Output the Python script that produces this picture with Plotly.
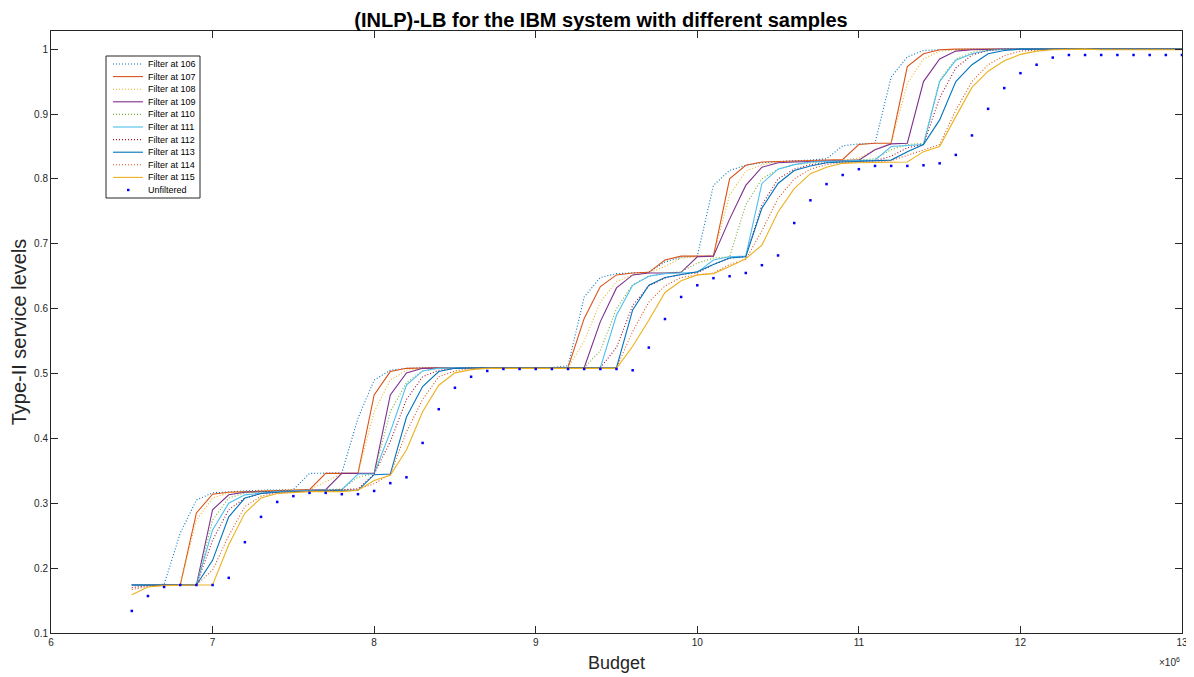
import plotly.graph_objs as go

# budget in millions (axis shows x10^6)
budget = [6.5, 6.6, 6.7, 6.8, 6.9, 7.0, 7.1, 7.2, 7.3, 7.4,
          7.5, 7.6, 7.7, 7.8, 7.9, 8.0, 8.1, 8.2, 8.3, 8.4,
          8.5, 8.6, 8.7, 8.8, 8.9, 9.0, 9.1, 9.2, 9.3, 9.4,
          9.5, 9.6, 9.7, 9.8, 9.9, 10.0, 10.1, 10.2, 10.3, 10.4,
          10.5, 10.6, 10.7, 10.8, 10.9, 11.0, 11.1, 11.2, 11.3, 11.4,
          11.5, 11.6, 11.7, 11.8, 11.9, 12.0, 12.1, 12.2, 12.3, 12.4,
          12.5, 12.6, 12.7, 12.8, 12.9, 13.0]

f106 = [0.174, 0.174, 0.175, 0.254, 0.305, 0.316, 0.318, 0.319, 0.320, 0.320,
        0.321, 0.346, 0.346, 0.347, 0.431, 0.490, 0.505, 0.508, 0.509, 0.509,
        0.509, 0.509, 0.509, 0.509, 0.509, 0.509, 0.509, 0.512, 0.618, 0.648,
        0.654, 0.655, 0.656, 0.672, 0.679, 0.681, 0.790, 0.813, 0.821, 0.825,
        0.827, 0.828, 0.829, 0.831, 0.851, 0.854, 0.855, 0.957, 0.988, 0.998,
        0.999, 1.0, 1.0, 1.0, 1.0, 1.0, 1.0, 1.0, 1.0, 1.0,
        1.0, 1.0, 1.0, 1.0, 1.0, 1.0]
f107 = [0.174, 0.174, 0.174, 0.174, 0.285, 0.314, 0.317, 0.318, 0.319, 0.320,
        0.320, 0.321, 0.346, 0.346, 0.346, 0.467, 0.503, 0.508, 0.509, 0.509,
        0.509, 0.509, 0.509, 0.509, 0.509, 0.509, 0.509, 0.509, 0.585, 0.634,
        0.652, 0.655, 0.656, 0.675, 0.681, 0.681, 0.681, 0.800, 0.821, 0.826,
        0.827, 0.828, 0.828, 0.829, 0.830, 0.853, 0.855, 0.855, 0.973, 0.993,
        0.999, 1.0, 1.0, 1.0, 1.0, 1.0, 1.0, 1.0, 1.0, 1.0,
        1.0, 1.0, 1.0, 1.0, 1.0, 1.0]
f108 = [0.174, 0.174, 0.174, 0.174, 0.274, 0.308, 0.316, 0.318, 0.319, 0.320,
        0.320, 0.321, 0.333, 0.346, 0.346, 0.441, 0.490, 0.505, 0.508, 0.509,
        0.509, 0.509, 0.509, 0.509, 0.509, 0.509, 0.509, 0.509, 0.550, 0.610,
        0.642, 0.652, 0.655, 0.665, 0.678, 0.680, 0.681, 0.775, 0.812, 0.822,
        0.826, 0.827, 0.828, 0.828, 0.829, 0.832, 0.845, 0.855, 0.947, 0.985,
        0.997, 0.999, 1.0, 1.0, 1.0, 1.0, 1.0, 1.0, 1.0, 1.0,
        1.0, 1.0, 1.0, 1.0, 1.0, 1.0]
f109 = [0.174, 0.174, 0.174, 0.174, 0.174, 0.290, 0.313, 0.317, 0.318, 0.319,
        0.320, 0.320, 0.321, 0.346, 0.346, 0.346, 0.467, 0.501, 0.508, 0.509,
        0.509, 0.509, 0.509, 0.509, 0.509, 0.509, 0.509, 0.509, 0.509, 0.580,
        0.632, 0.652, 0.655, 0.655, 0.656, 0.680, 0.681, 0.738, 0.790, 0.818,
        0.825, 0.826, 0.827, 0.828, 0.828, 0.829, 0.845, 0.854, 0.855, 0.950,
        0.985, 0.997, 0.999, 1.0, 1.0, 1.0, 1.0, 1.0, 1.0, 1.0,
        1.0, 1.0, 1.0, 1.0, 1.0, 1.0]
f110 = [0.174, 0.174, 0.174, 0.174, 0.174, 0.274, 0.308, 0.316, 0.318, 0.319,
        0.320, 0.320, 0.321, 0.322, 0.340, 0.346, 0.441, 0.486, 0.504, 0.508,
        0.509, 0.509, 0.509, 0.509, 0.509, 0.509, 0.509, 0.509, 0.509, 0.535,
        0.600, 0.637, 0.650, 0.655, 0.657, 0.670, 0.678, 0.680, 0.760, 0.800,
        0.815, 0.822, 0.825, 0.827, 0.828, 0.829, 0.831, 0.845, 0.853, 0.855,
        0.952, 0.985, 0.995, 0.999, 1.0, 1.0, 1.0, 1.0, 1.0, 1.0,
        1.0, 1.0, 1.0, 1.0, 1.0, 1.0]
f111 = [0.174, 0.174, 0.174, 0.174, 0.174, 0.259, 0.300, 0.313, 0.316, 0.318,
        0.319, 0.320, 0.320, 0.321, 0.345, 0.345, 0.410, 0.482, 0.504, 0.508,
        0.509, 0.509, 0.509, 0.509, 0.509, 0.509, 0.509, 0.509, 0.509, 0.509,
        0.590, 0.636, 0.650, 0.654, 0.655, 0.656, 0.675, 0.680, 0.681, 0.793,
        0.815, 0.822, 0.826, 0.827, 0.828, 0.828, 0.829, 0.850, 0.852, 0.853,
        0.950, 0.983, 0.993, 0.998, 1.0, 1.0, 1.0, 1.0, 1.0, 1.0,
        1.0, 1.0, 1.0, 1.0, 1.0, 1.0]
f112 = [0.170, 0.173, 0.174, 0.174, 0.174, 0.243, 0.290, 0.308, 0.315, 0.317,
        0.318, 0.319, 0.320, 0.320, 0.322, 0.345, 0.395, 0.460, 0.495, 0.505,
        0.508, 0.509, 0.509, 0.509, 0.509, 0.509, 0.509, 0.509, 0.509, 0.509,
        0.540, 0.605, 0.635, 0.647, 0.653, 0.655, 0.668, 0.678, 0.680, 0.760,
        0.800, 0.815, 0.822, 0.825, 0.826, 0.827, 0.828, 0.835, 0.848, 0.853,
        0.925, 0.971, 0.991, 0.998, 1.0, 1.0, 1.0, 1.0, 1.0, 1.0,
        1.0, 1.0, 1.0, 1.0, 1.0, 1.0]
f113 = [0.174, 0.174, 0.174, 0.174, 0.174, 0.212, 0.279, 0.308, 0.315, 0.317,
        0.318, 0.319, 0.320, 0.320, 0.320, 0.344, 0.345, 0.433, 0.480, 0.503,
        0.508, 0.509, 0.509, 0.509, 0.509, 0.509, 0.509, 0.509, 0.509, 0.509,
        0.509, 0.598, 0.636, 0.648, 0.653, 0.657, 0.668, 0.678, 0.680, 0.755,
        0.793, 0.813, 0.820, 0.825, 0.826, 0.827, 0.828, 0.829, 0.842, 0.853,
        0.891, 0.950, 0.976, 0.993, 0.998, 1.0, 1.0, 1.0, 1.0, 1.0,
        1.0, 1.0, 1.0, 1.0, 1.0, 1.0]
f114 = [0.167, 0.172, 0.174, 0.174, 0.174, 0.197, 0.250, 0.295, 0.311, 0.316,
        0.317, 0.318, 0.319, 0.320, 0.322, 0.330, 0.345, 0.410, 0.460, 0.495,
        0.504, 0.508, 0.509, 0.509, 0.509, 0.509, 0.509, 0.509, 0.509, 0.509,
        0.509, 0.565, 0.610, 0.635, 0.648, 0.652, 0.655, 0.668, 0.676, 0.720,
        0.770, 0.800, 0.815, 0.822, 0.825, 0.826, 0.826, 0.828, 0.836, 0.845,
        0.853, 0.906, 0.950, 0.976, 0.990, 0.997, 0.999, 1.0, 1.0, 1.0,
        1.0, 1.0, 1.0, 1.0, 1.0, 1.0]
f115 = [0.159, 0.171, 0.173, 0.174, 0.174, 0.174, 0.236, 0.285, 0.308, 0.315,
        0.317, 0.318, 0.318, 0.318, 0.320, 0.335, 0.343, 0.382, 0.441, 0.482,
        0.501, 0.506, 0.508, 0.508, 0.508, 0.508, 0.508, 0.508, 0.508, 0.508,
        0.508, 0.542, 0.582, 0.625, 0.643, 0.652, 0.654, 0.665, 0.677, 0.698,
        0.749, 0.785, 0.808, 0.818, 0.824, 0.825, 0.825, 0.825, 0.826, 0.842,
        0.850, 0.896, 0.941, 0.966, 0.982, 0.992, 0.997, 0.999, 1.0, 1.0,
        0.999, 0.999, 0.999, 0.999, 0.999, 0.999]
unfiltered = [0.134, 0.157, 0.171, 0.174, 0.174, 0.174, 0.185, 0.240, 0.279, 0.302,
              0.311, 0.316, 0.316, 0.314, 0.314, 0.319, 0.331, 0.340, 0.393, 0.445,
              0.478, 0.495, 0.504, 0.507, 0.507, 0.507, 0.507, 0.507, 0.507, 0.507,
              0.507, 0.505, 0.540, 0.584, 0.618, 0.636, 0.647, 0.650, 0.655, 0.667,
              0.682, 0.732, 0.767, 0.792, 0.806, 0.815, 0.820, 0.820, 0.820, 0.821,
              0.824, 0.837, 0.867, 0.908, 0.940, 0.963, 0.976, 0.987, 0.991, 0.991,
              0.991, 0.991, 0.991, 0.991, 0.991, 0.991]

DOT = "1px,2px"
filters = [("Filter at 106", f106, "#0072BD", DOT),
           ("Filter at 107", f107, "#D95319", "solid"),
           ("Filter at 108", f108, "#EDB120", DOT),
           ("Filter at 109", f109, "#7E2F8E", "solid"),
           ("Filter at 110", f110, "#77AC30", DOT),
           ("Filter at 111", f111, "#4DBEEE", "solid"),
           ("Filter at 112", f112, "#A2142F", DOT),
           ("Filter at 113", f113, "#0072BD", "solid"),
           ("Filter at 114", f114, "#D95319", DOT),
           ("Filter at 115", f115, "#EDB120", "solid")]

x_ticks = [6, 7, 8, 9, 10, 11, 12, 13]
y_ticks = [0.1, 0.2, 0.3, 0.4, 0.5, 0.6, 0.7, 0.8, 0.9, 1.0]
y_labels = ["0.1", "0.2", "0.3", "0.4", "0.5", "0.6", "0.7", "0.8", "0.9", "1"]

font = "Liberation Sans, Arial, Helvetica, sans-serif"
axcol = "#262626"

# page has an 8px body margin, so the figure is drawn offset by (8, 8)
OFF = 8
W, H = 1194 - OFF, 677 - OFF
# wanted plot area on the page: x 51..1182, y 31..633
L, R, T, B = 51 - OFF, 1194 - 1182 - OFF + 8, 31 - OFF, 677 - 633
pw, ph = W - L - R, H - T - B


def px(x):  # page pixel -> paper x
    return (x - OFF - L) / pw


def py(y):  # page pixel -> paper y
    return (H - B - (y - OFF)) / ph


fig = go.Figure()
for name, vals, col, dash in filters:
    fig.add_trace(go.Scatter(x=budget, y=vals, name=name, mode="lines", showlegend=False,
                             line=dict(color=col, dash=dash, width=1.1)))
fig.add_trace(go.Scatter(x=budget, y=unfiltered, name="Unfiltered", mode="markers",
                         showlegend=False,
                         marker=dict(color="#0000FF", size=2.5, symbol="square",
                                     line=dict(width=0))))

axis_common = dict(showline=True, linecolor=axcol, linewidth=1, mirror="allticks",
                   ticks="inside", ticklen=7, tickcolor=axcol, showgrid=False,
                   zeroline=False, automargin=False,
                   tickfont=dict(family=font, size=10, color=axcol))

fig.update_layout(
    width=W, height=H,
    margin=dict(l=L, r=R, t=T, b=B),
    paper_bgcolor="white", plot_bgcolor="white",
    title=dict(text="<b>(INLP)-LB for the IBM system with different samples</b>",
               x=0.5, xanchor="center", y=1 - (20 - OFF) / H, yanchor="middle",
               font=dict(family=font, size=20, color="black")),
    xaxis=dict(range=[6, 13], tickvals=x_ticks, ticktext=[str(t) for t in x_ticks],
               title=dict(text="Budget", font=dict(family=font, size=18, color=axcol), standoff=9),
               **axis_common),
    yaxis=dict(range=[0.1, 1.028], tickvals=y_ticks, ticktext=y_labels,
               title=dict(text="Type-II service levels", font=dict(family=font, size=20, color=axcol), standoff=6),
               **axis_common),
    showlegend=False,
)

# legend box drawn by hand (MATLAB-style compact legend)
fig.add_shape(type="rect", xref="paper", yref="paper",
              x0=px(106), x1=px(200), y0=py(198), y1=py(56),
              line=dict(color=axcol, width=1), fillcolor="white", layer="above")
row0, step = 64, 12.6
for i, (name, vals, col, dash) in enumerate(filters):
    yy = py(row0 + i * step)
    fig.add_shape(type="line", xref="paper", yref="paper", x0=px(113), x1=px(143),
                  y0=yy, y1=yy, line=dict(color=col, dash=dash, width=1.1), layer="above")
    fig.add_annotation(text=name, xref="paper", yref="paper", x=px(146), y=yy,
                       xanchor="left", yanchor="middle", showarrow=False,
                       font=dict(family=font, size=9, color="black"))
yy = py(row0 + 10 * step)
fig.add_shape(type="rect", xref="paper", yref="paper", x0=px(127), x1=px(129.5),
              y0=py(row0 + 10 * step + 1.2), y1=py(row0 + 10 * step - 1.2),
              line=dict(width=0), fillcolor="#0000FF", layer="above")
fig.add_annotation(text="Unfiltered", xref="paper", yref="paper", x=px(146), y=yy,
                   xanchor="left", yanchor="middle", showarrow=False,
                   font=dict(family=font, size=9, color="black"))

fig.add_annotation(text="\u00d710<sup>6</sup>", xref="paper", yref="paper",
                   x=1.0, y=-0.035, xanchor="right", yanchor="top", showarrow=False,
                   font=dict(family=font, size=10, color=axcol))

fig.write_html("out.html")
